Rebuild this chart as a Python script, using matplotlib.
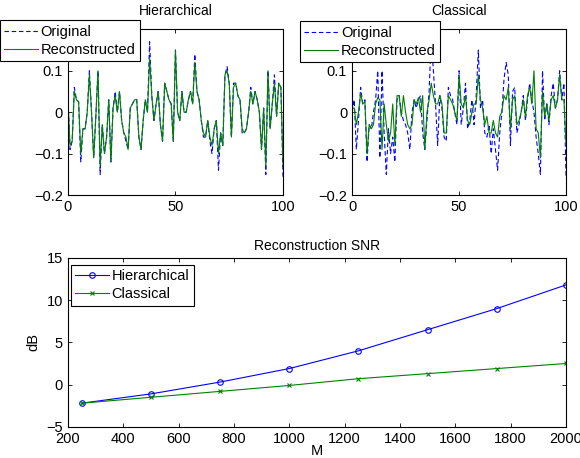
import matplotlib
matplotlib.use("Agg")
import matplotlib.pyplot as plt
import numpy as np

plt.rcParams['font.family'] = ['Liberation Sans', 'DejaVu Sans']
plt.rcParams['font.size'] = 10

# signal samples 0..100
n = np.arange(101)

hier_orig = [0.04, -0.09, -0.07, 0.06, 0.03, 0.025, -0.12, -0.04, -0.04, 0.0,
             0.1, 0.0, -0.11, -0.01, 0.1, -0.15, -0.03, -0.1, -0.06, 0.03,
             -0.12, 0.01, 0.05, 0.0, 0.05, -0.02, -0.05, -0.07, -0.09, 0.01,
             0.02, 0.03, 0.03, -0.06, -0.09, -0.02, 0.03, 0.0, 0.17, 0.04,
             -0.02, 0.02, 0.05, -0.03, -0.07, 0.07, 0.05, 0.03, 0.02, -0.07,
             0.15, 0.0, -0.02, 0.05, 0.0, 0.0, 0.03, 0.05, 0.02, 0.14,
             0.05, 0.03, -0.02, -0.06, -0.06, -0.02, -0.07, -0.1, -0.04, -0.02,
             -0.14, -0.05, -0.08, 0.09, 0.11, 0.07, -0.06, 0.07, 0.07, 0.04,
             0.03, -0.05, -0.05, -0.04, 0.0, 0.06, 0.02, 0.05, 0.03, 0.0,
             -0.09, 0.01, -0.15, 0.1, -0.04, 0.02, 0.09, -0.01, 0.07, 0.06,
             -0.16]
hier_rec = [0.035, -0.08, -0.07, 0.05, 0.03, 0.025, -0.1, -0.04, -0.04, 0.0,
            0.09, 0.0, -0.11, -0.01, 0.1, -0.13, -0.03, -0.1, -0.06, 0.03,
            -0.12, 0.01, 0.04, 0.0, 0.05, -0.02, -0.05, -0.06, -0.09, 0.01,
            0.02, 0.03, 0.03, -0.06, -0.09, -0.02, 0.03, 0.0, 0.13, 0.04,
            -0.02, 0.02, 0.05, -0.03, -0.07, 0.07, 0.05, 0.03, 0.02, -0.07,
            0.15, 0.0, -0.02, 0.05, 0.0, 0.0, 0.03, 0.05, 0.02, 0.12,
            0.05, 0.03, -0.02, -0.05, -0.06, -0.02, -0.06, -0.08, -0.04, -0.02,
            -0.1, -0.05, -0.08, 0.09, 0.1, 0.07, -0.06, 0.06, 0.07, 0.04,
            0.03, -0.04, -0.05, -0.04, 0.0, 0.05, 0.02, 0.05, 0.03, 0.0,
            -0.09, 0.01, -0.13, 0.1, -0.04, 0.02, 0.07, -0.01, 0.07, 0.06,
            -0.13]

class_orig = [0.0, 0.03, -0.09, -0.02, 0.06, 0.02, 0.03, -0.12, -0.03, -0.04,
              0.0, 0.03, 0.1, -0.11, 0.1, -0.05, -0.15, -0.04, -0.1, -0.06,
              -0.12, 0.03, 0.04, 0.0, -0.02, -0.03, -0.05, -0.09, 0.0, 0.03,
              0.01, 0.03, 0.04, -0.05, -0.09, -0.02, 0.05, 0.18, 0.1, 0.02,
              -0.08, 0.04, 0.01, -0.06, -0.07, 0.06, 0.04, 0.03, 0.0, -0.03,
              0.1, -0.03, 0.01, 0.07, -0.04, -0.02, 0.03, -0.03, 0.04, 0.15,
              0.01, 0.03, -0.05, -0.06, -0.03, -0.1, -0.04, -0.09, -0.14, -0.05,
              0.0, 0.08, 0.12, 0.09, -0.08, 0.05, 0.06, -0.05, -0.03, 0.0,
              0.04, -0.02, 0.03, 0.07, 0.03, 0.0, -0.06, -0.1, -0.15, 0.1,
              -0.02, 0.02, -0.03, 0.04, 0.07, 0.01, 0.03, 0.1, 0.03, 0.07,
              -0.16]
class_rec = [0.01, 0.01, -0.03, 0.0, 0.045, 0.02, 0.025, -0.1, -0.03, -0.04,
             -0.03, 0.02, 0.035, 0.03, -0.09, 0.02, -0.03, -0.07, -0.05, 0.02,
             -0.08, 0.04, 0.04, -0.01, 0.04, 0.0, -0.03, -0.04, -0.03, 0.03,
             0.02, 0.035, 0.0, 0.04, -0.09, 0.0, 0.03, 0.07, 0.04, 0.02,
             0.02, 0.04, 0.02, -0.05, -0.05, 0.04, 0.03, 0.02, 0.0, -0.02,
             0.09, 0.02, 0.01, 0.04, -0.02, -0.03, 0.0, 0.02, 0.02, 0.09,
             0.03, 0.01, -0.03, -0.01, -0.05, -0.05, -0.02, -0.05, -0.06, -0.01,
             0.0, 0.04, 0.03, 0.06, -0.04, 0.03, 0.04, -0.03, -0.02, 0.0,
             0.03, -0.01, 0.04, 0.06, 0.02, 0.1, -0.04, -0.05, -0.11, 0.05,
             -0.01, 0.02, -0.02, 0.03, 0.04, 0.01, 0.03, 0.09, 0.03, 0.03,
             -0.08]

M = [250, 500, 750, 1000, 1250, 1500, 1750, 2000]
snr_hier = [-2.2, -1.1, 0.3, 1.9, 4.0, 6.5, 9.0, 11.8]
snr_class = [-2.2, -1.5, -0.8, -0.1, 0.7, 1.3, 1.9, 2.5]

blue = (0, 0, 1)
green = (0, 0.5, 0)


def style(ax):
    ax.tick_params(direction='in', top=True, right=True, length=3, width=0.6,
                   labelsize=10.5)
    for s in ax.spines.values():
        s.set_linewidth(0.8)


def legend(ax, anchor):
    lg = ax.legend(loc='upper left', bbox_to_anchor=anchor, fancybox=False,
                   edgecolor='black', framealpha=1, borderpad=0.3,
                   handlelength=2.3, handletextpad=0.2, labelspacing=0.3,
                   borderaxespad=0, fontsize=10.5)
    lg.get_frame().set_linewidth(0.8)


fig = plt.figure(figsize=(5.8, 4.58), dpi=100)
ax1 = fig.add_axes([0.117, 0.574, 0.371, 0.362])
ax2 = fig.add_axes([0.607, 0.574, 0.369, 0.362])
ax3 = fig.add_axes([0.117, 0.068, 0.859, 0.369])

for ax, orig, rec, title, anchor in [
        (ax1, hier_orig, hier_rec, 'Hierarchical', (-0.316, 1.054)),
        (ax2, class_orig, class_rec, 'Classical', (-0.243, 1.048))]:
    ax.plot(n, orig, color=blue, lw=0.8, dashes=(4, 2.5), label='Original')
    ax.plot(n, rec, '-', color=green, lw=0.8, label='Reconstructed')
    ax.set_xlim(0, 100)
    ax.set_ylim(-0.2, 0.2)
    ax.set_xticks([0, 50, 100])
    ax.set_yticks([-0.2, -0.1, 0, 0.1])
    ax.set_yticklabels(['\u22120.2', '\u22120.1', '0', '0.1'])
    ax.set_title(title, fontsize=10, pad=10)
    style(ax)
    legend(ax, anchor)

ax3.plot(M, snr_hier, '-o', color=blue, lw=0.8, ms=4, mfc='none', mew=0.8,
         label='Hierarchical')
ax3.plot(M, snr_class, '-x', color=green, lw=0.8, ms=3.5, mew=0.8,
         label='Classical')
ax3.set_xlim(200, 2000)
ax3.set_ylim(-5, 15)
ax3.set_xticks(range(200, 2001, 200))
ax3.set_yticks([-5, 0, 5, 10, 15])
ax3.set_yticklabels(['\u22125', '0', '5', '10', '15'])
ax3.set_xlabel('M', labelpad=-1, fontsize=10.5)
ax3.set_ylabel('dB', labelpad=4, fontsize=10.5)
ax3.set_title('Reconstruction SNR', fontsize=10, pad=6)
style(ax3)
legend(ax3, (0.006, 0.96))

fig.savefig('out.png', dpi=100)
